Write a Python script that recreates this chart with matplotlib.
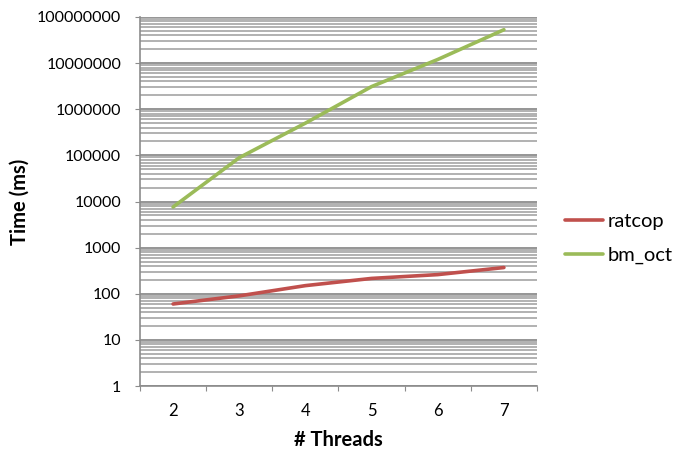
import matplotlib.pyplot as plt
import matplotlib.ticker as ticker
import numpy as np

threads = ['2', '3', '4', '5', '6', '7']
ratcop = [60, 90, 150, 215, 260, 370]
bm_oct = [7600, 89000, 500000, 3100000, 12000000, 53000000]

plt.rcParams['font.family'] = ['Lato', 'DejaVu Sans']

fig = plt.figure(figsize=(6.78, 4.53), dpi=100)
ax = fig.add_axes([140 / 678, 67 / 453, 397 / 678, 369 / 453])

x = np.arange(len(threads))
ax.plot(x, ratcop, color='#C0504D', lw=2.6, label='ratcop', solid_capstyle='round')
ax.plot(x, bm_oct, color='#9BBB59', lw=2.6, label='bm_oct', solid_capstyle='round')

ax.set_yscale('log')
ax.set_ylim(1, 1e8)
ax.set_xlim(-0.5, len(threads) - 0.5)

# y ticks as plain numbers
ax.yaxis.set_major_locator(ticker.LogLocator(base=10, numticks=20))
ax.yaxis.set_minor_locator(ticker.LogLocator(base=10, subs=np.arange(2, 10), numticks=20))
ax.yaxis.set_major_formatter(ticker.FuncFormatter(lambda v, p: '%d' % round(v)))
ax.yaxis.set_minor_formatter(ticker.NullFormatter())

ax.grid(True, which='major', axis='y', color='#8C8C8C', lw=1.3)
ax.grid(True, which='minor', axis='y', color='#ABABAB', lw=1.3)
ax.set_axisbelow(True)

# category axis: ticks between categories, labels centred
ax.set_xticks(np.arange(-0.5, len(threads), 1.0))
ax.set_xticklabels([])
ax.set_xticks(x, minor=True)
ax.set_xticklabels(threads, minor=True)
ax.tick_params(axis='x', which='major', length=3.6, color='#8C8C8C')
ax.tick_params(axis='x', which='minor', length=0, labelsize=12, pad=12)
ax.tick_params(axis='y', which='major', length=3.6, color='#8C8C8C', labelsize=11.5, pad=10)
ax.tick_params(axis='y', which='minor', length=0)

for s in ['top', 'right']:
    ax.spines[s].set_visible(False)
for s in ['left', 'bottom']:
    ax.spines[s].set_color('#8C8C8C')
    ax.spines[s].set_linewidth(1.2)

ax.set_xlabel('# Threads', fontsize=14.5, fontweight='bold', labelpad=8)
ax.set_ylabel('Time (ms)', fontsize=14.5, fontweight='bold', labelpad=5)

ax.legend(loc='center left', bbox_to_anchor=(1.05, 0.40), frameon=False,
          fontsize=14.5, handlelength=1.9, handletextpad=0.2, labelspacing=0.85,
          borderaxespad=0)

fig.savefig('out.png', dpi=100)
